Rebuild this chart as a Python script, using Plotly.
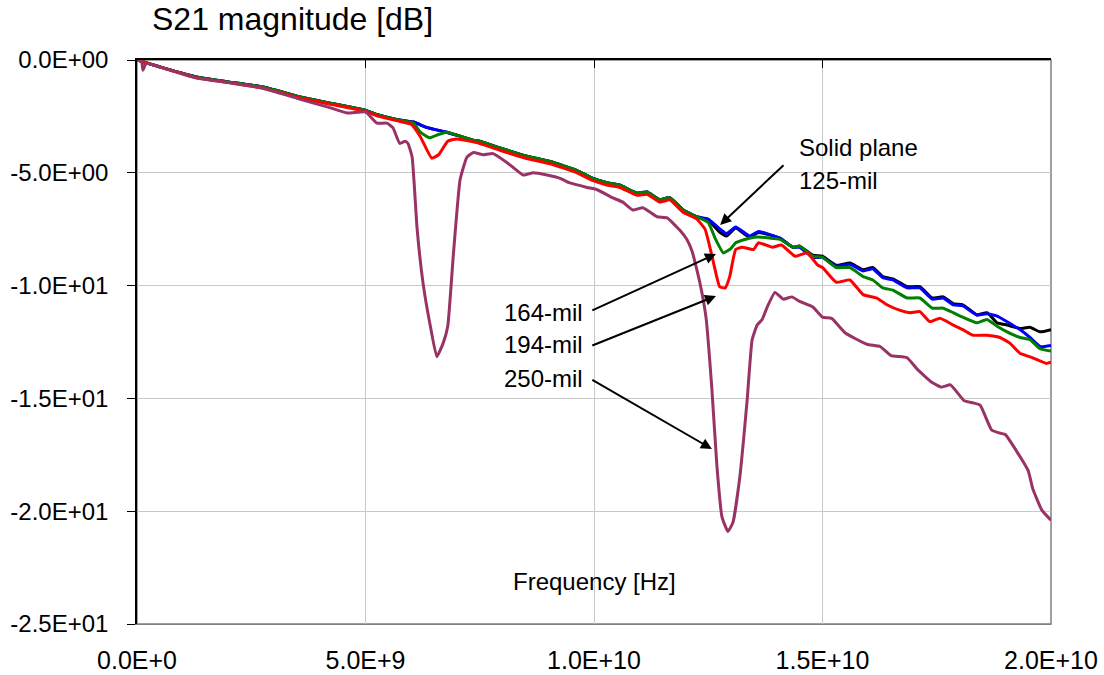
import plotly.graph_objects as go

# ---------------- data (frequency in GHz, S21 in dB) ----------------
f_solid = [0, 0.57, 1.3, 2.0, 2.76, 3.5, 4.2, 4.95, 5.3, 5.7, 6.05, 6.35, 6.78, 7.35, 7.5, 7.94,
           8.6, 9.04, 9.63, 9.98, 10.3, 10.57, 10.94, 11.16, 11.44, 11.66, 11.95, 12.25, 12.5,
           12.76, 12.9, 13.1, 13.4, 13.6, 14.07, 14.35, 14.5, 14.79, 15.0, 15.3, 15.6, 15.89,
           16.1, 16.32, 16.54, 16.85, 17.13, 17.4, 17.64, 17.86, 18.07, 18.38, 18.6, 18.82,
           19.04, 19.32, 19.54, 19.76, 20.0]
s_solid = [0, -0.35, -0.75, -0.97, -1.2, -1.6, -1.9, -2.2, -2.45, -2.65, -2.75, -3.0, -3.2, -3.55,
           -3.6, -3.9, -4.3, -4.5, -4.9, -5.25, -5.45, -5.55, -5.9, -5.85, -6.2, -6.1, -6.65,
           -6.95, -7.1, -7.65, -7.8, -7.45, -7.85, -7.65, -7.9, -8.3, -8.25, -8.65, -8.7, -9.1,
           -9.0, -9.3, -9.2, -9.6, -9.7, -10.05, -10.05, -10.55, -10.5, -10.8, -10.85, -11.3,
           -11.2, -11.65, -11.75, -11.9, -11.85, -12.05, -11.95]

f_125 = f_solid
s_125 = [0, -0.35, -0.75, -0.97, -1.2, -1.6, -1.9, -2.2, -2.45, -2.65, -2.75, -3.0, -3.2, -3.55,
         -3.6, -3.9, -4.3, -4.5, -4.9, -5.25, -5.45, -5.55, -5.9, -5.85, -6.2, -6.1, -6.65,
         -6.95, -7.05, -7.5, -7.7, -7.4, -7.8, -7.6, -7.9, -8.3, -8.3, -8.75, -8.75, -9.15,
         -9.05, -9.35, -9.25, -9.65, -9.75, -10.1, -10.1, -10.6, -10.55, -10.85, -10.9, -11.3,
         -11.25, -11.35, -11.6, -11.95, -12.3, -12.7, -12.65]

f_164 = [0, 0.57, 1.3, 2.0, 2.76, 3.5, 4.2, 4.95, 5.3, 5.7, 6.05, 6.2, 6.4, 6.6, 6.78, 7.35, 7.5,
         7.94, 8.6, 9.04, 9.63, 9.98, 10.3, 10.57, 10.94, 11.16, 11.44, 11.66, 11.95, 12.25,
         12.5, 12.65, 12.83, 13.0, 13.1, 13.4, 13.6, 14.07, 14.35, 14.5, 14.79, 15.0, 15.3,
         15.6, 15.89, 16.1, 16.32, 16.54, 16.85, 17.13, 17.4, 17.64, 17.86, 18.07, 18.38,
         18.6, 18.82, 19.04, 19.32, 19.54, 19.76, 20.0]
s_164 = [0, -0.35, -0.75, -0.97, -1.2, -1.6, -1.9, -2.2, -2.45, -2.65, -2.8, -3.2, -3.45, -3.3,
         -3.2, -3.55, -3.6, -3.9, -4.3, -4.5, -4.9, -5.25, -5.45, -5.55, -5.9, -5.85, -6.2,
         -6.1, -6.65, -6.95, -7.2, -7.9, -8.55, -8.35, -8.1, -7.9, -7.85, -7.95, -8.3, -8.25,
         -8.7, -8.75, -9.2, -9.2, -9.6, -9.75, -10.1, -10.2, -10.55, -10.55, -11.0, -11.0,
         -11.2, -11.4, -11.65, -11.5, -11.8, -12.05, -12.3, -12.4, -12.8, -12.9]

f_194 = [0, 0.57, 1.3, 2.0, 2.76, 3.5, 4.2, 4.95, 5.3, 5.7, 6.0, 6.2, 6.45, 6.6, 6.8, 7.0, 7.5,
         7.94, 8.6, 9.04, 9.63, 9.98, 10.3, 10.57, 10.94, 11.16, 11.44, 11.66, 11.95, 12.25,
         12.43, 12.6, 12.75, 12.87, 12.97, 13.1, 13.24, 13.49, 13.6, 13.9, 14.1, 14.4, 14.66,
         14.9, 15.0, 15.3, 15.6, 15.89, 16.19, 16.41, 16.7, 16.91, 17.13, 17.35, 17.57, 17.86,
         18.07, 18.29, 18.6, 18.88, 19.1, 19.32, 19.6, 19.9, 20.0]
s_194 = [0, -0.35, -0.78, -1.0, -1.25, -1.65, -1.95, -2.25, -2.5, -2.7, -2.85, -3.4, -4.35, -4.2,
         -3.6, -3.5, -3.7, -4.0, -4.4, -4.6, -5.0, -5.35, -5.55, -5.65, -6.0, -5.95, -6.3,
         -6.2, -6.75, -7.05, -7.5, -8.85, -10.05, -10.1, -9.6, -8.4, -8.3, -8.4, -8.1, -8.3,
         -8.2, -8.7, -8.55, -9.1, -9.2, -9.85, -9.75, -10.4, -10.55, -10.85, -11.1, -11.2,
         -11.15, -11.6, -11.45, -11.75, -11.95, -12.2, -12.2, -12.3, -12.55, -13.0, -13.2,
         -13.45, -13.4]

f_250 = [0, 0.1, 0.13, 0.2, 0.57, 1.3, 2.0, 2.76, 3.5, 4.2, 4.6, 5.0, 5.25, 5.47, 5.6, 5.75,
         5.87, 5.93, 6.02, 6.13, 6.26, 6.41, 6.56, 6.7, 6.8, 6.92, 7.07, 7.22, 7.36, 7.57, 7.79,
         8.1, 8.45, 8.67, 8.97, 9.26, 9.47, 9.85, 10.07, 10.4, 10.63, 10.85, 11.07, 11.38, 11.6,
         11.88, 12.03, 12.15, 12.32, 12.45, 12.58, 12.69, 12.8, 12.93, 13.04, 13.19, 13.35,
         13.46, 13.57, 13.68, 13.79, 13.96, 14.14, 14.33, 14.5, 14.79, 15.0, 15.2, 15.5, 15.97,
         16.26, 16.5, 16.85, 17.07, 17.4, 17.6, 17.8, 18.1, 18.3, 18.45, 18.7, 18.9, 19.0, 19.5,
         19.6, 19.8, 20.0]
s_250 = [0, -0.05, -0.45, -0.15, -0.35, -0.8, -1.0, -1.25, -1.7, -2.1, -2.35, -2.3, -2.8, -2.8,
         -3.0, -3.7, -3.6, -3.7, -4.3, -7.5, -9.9, -11.7, -13.15, -12.55, -11.8, -8.7, -5.3,
         -4.3, -4.1, -4.2, -4.15, -4.55, -5.1, -5.0, -5.1, -5.25, -5.45, -5.65, -5.75, -6.1,
         -6.3, -6.65, -6.55, -6.95, -7.0, -7.55, -7.95, -8.5, -9.9, -11.4, -14.6, -18.0, -20.25,
         -20.9, -20.5, -18.5, -15.1, -12.4, -11.75, -11.5, -10.95, -10.3, -10.6, -10.5, -10.7,
         -10.95, -11.4, -11.45, -12.1, -12.6, -12.7, -13.1, -13.2, -13.7, -14.3, -14.5, -14.4,
         -15.1, -15.2, -15.3, -16.4, -16.55, -16.6, -18.2, -19.0, -19.95, -20.4]

x_ticks = [0, 5e9, 1e10, 1.5e10, 2e10]
x_tick_labels = ["0.0E+0", "5.0E+9", "1.0E+10", "1.5E+10", "2.0E+10"]
y_ticks = [0, -5, -10, -15, -20, -25]
y_tick_labels = ["0.0E+00", "-5.0E+00", "-1.0E+01", "-1.5E+01", "-2.0E+01", "-2.5E+01"]

series = [
    ("Solid plane", f_solid, s_solid, "#000000"),
    ("125-mil", f_125, s_125, "#0000FF"),
    ("164-mil", f_164, s_164, "#008000"),
    ("194-mil", f_194, s_194, "#FF0000"),
    ("250-mil", f_250, s_250, "#993366"),
]

FONT = "Arial, Liberation Sans, sans-serif"

fig = go.Figure()
for name, f, s, col in series:
    fig.add_trace(go.Scatter(
        x=[v * 1e9 for v in f], y=s, mode="lines", name=name,
        line=dict(color=col, width=3, shape="spline", smoothing=0.4),
        showlegend=False,
    ))

# invisible trace to hold the top axis
fig.add_trace(go.Scatter(x=[None], y=[None], xaxis="x2", showlegend=False, hoverinfo="skip"))

fig.update_layout(
    width=1104, height=675,
    margin=dict(l=137, r=53, t=60, b=51, autoexpand=False),
    paper_bgcolor="white", plot_bgcolor="white",
    font=dict(family=FONT, color="black"),
    xaxis=dict(
        range=[0, 2e10], tickmode="array", tickvals=x_ticks, ticktext=x_tick_labels,
        showgrid=True, gridcolor="#c8c8c8", gridwidth=1, zeroline=False,
        showline=True, linecolor="#808080", linewidth=1, ticks="",
        tickfont=dict(size=25, family=FONT), ticklabelstandoff=14, automargin=False,
    ),
    xaxis2=dict(
        range=[0, 2e10], overlaying="x", side="top", anchor="y",
        tickmode="array", tickvals=x_ticks, showticklabels=False,
        ticks="inside", ticklen=8, tickcolor="black", tickwidth=1,
        showline=True, linecolor="black", linewidth=1.5, showgrid=False, zeroline=False,
        automargin=False,
    ),
    yaxis=dict(
        range=[-25, 0], tickmode="array", tickvals=y_ticks, ticktext=y_tick_labels,
        showgrid=True, gridcolor="#c8c8c8", gridwidth=1, zeroline=False,
        showline=True, linecolor="black", linewidth=1.5, ticks="outside", ticklen=8,
        tickcolor="black", tickfont=dict(size=24, family=FONT), ticklabelstandoff=14,
        automargin=False,
    ),
    shapes=[dict(type="rect", xref="paper", yref="paper", x0=0, x1=1, y0=0, y1=1,
                 line=dict(color="#808080", width=1.5), layer="below")],
)

ann = []
# title
ann.append(dict(text="S21 magnitude [dB]", xref="paper", yref="paper", x=0.0142, y=1.072,
                xanchor="left", yanchor="middle", showarrow=False, font=dict(size=32)))
# x-axis title
ann.append(dict(text="Frequency [Hz]", xref="x", yref="y", x=1e10, y=-23.1,
                xanchor="center", yanchor="middle", showarrow=False, font=dict(size=24)))
# labels
ann.append(dict(text="Solid plane", xref="x", yref="y", x=14.44e9, y=-3.9,
                xanchor="left", yanchor="middle", showarrow=False, font=dict(size=24)))
ann.append(dict(text="125-mil", xref="x", yref="y", x=14.44e9, y=-5.36,
                xanchor="left", yanchor="middle", showarrow=False, font=dict(size=24)))
for txt, yv in [("164-mil", -11.17), ("194-mil", -12.63), ("250-mil", -14.1)]:
    ann.append(dict(text=txt, xref="x", yref="y", x=9.8e9, y=yv,
                    xanchor="right", yanchor="middle", showarrow=False, font=dict(size=24)))
# arrows
arrows = [
    ((12.76e9, -7.31), (14.18e9, -4.6)),
    ((12.67e9, -8.6), (9.93e9, -11.13)),
    ((12.67e9, -10.46), (9.93e9, -12.68)),
    ((12.58e9, -17.24), (9.93e9, -14.14)),
]
for (hx, hy), (tx, ty) in arrows:
    ann.append(dict(text="", x=hx, y=hy, xref="x", yref="y", ax=tx, ay=ty, axref="x", ayref="y",
                    showarrow=True, arrowhead=2, arrowsize=1.1, arrowwidth=2, arrowcolor="black",
                    standoff=0, startstandoff=0))
fig.update_layout(annotations=ann)

fig.write_html("out.html")
